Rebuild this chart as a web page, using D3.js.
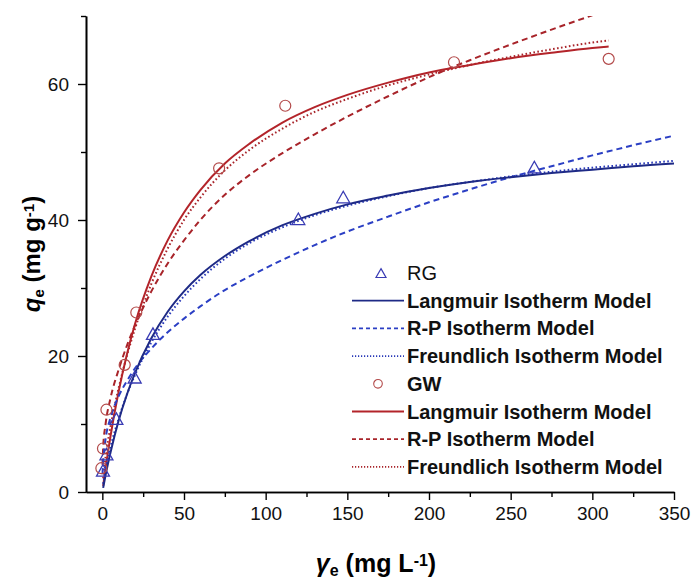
<!DOCTYPE html>
<meta charset="utf-8">
<style>
  body { margin: 0; background: #fff; }
  text { font-family: "Liberation Sans", Arial, sans-serif; }
</style>
<body>
  <script src="https://d3js.org/d3.v7.min.js"></script>
  <script>
    // measured points
    var rgX = [0.4, 2.5, 8.6, 19.8, 31, 120, 147.5, 264.5];
    var rgY = [3.0, 5.4, 10.6, 16.7, 23.1, 40.0, 43.2, 47.6];
    var gwX = [-0.6, 0.4, 2.5, 13.7, 20.8, 71.5, 112, 215.3, 310];
    var gwY = [3.5, 6.4, 12.1, 18.7, 26.4, 47.6, 56.8, 63.2, 63.7];

    // fitted curves
    var fitX = [0.1, 0.5, 2, 5, 10, 15, 20, 30, 40, 50, 60, 75, 90, 110, 130, 150, 175, 200, 225, 250, 275, 300, 310, 325, 350];
    var rgLangmuir = [null, 0.6, 2.5, 5.8, 10.5, 14.3, 17.5, 22.6, 26.5, 29.5, 31.9, 34.7, 36.9, 39.2, 40.9, 42.3, 43.6, 44.7, 45.6, 46.3, 46.9, 47.4, 47.6, 47.9, 48.3];
    var rgRP = [2.6, 4.4, 7.8, 10.9, 14.1, 16.3, 18.2, 21.1, 23.5, 25.5, 27.3, 29.7, 31.7, 34.1, 36.3, 38.3, 40.5, 42.6, 44.5, 46.3, 47.9, 49.5, 50.1, 51.0, 52.4];
    var rgFreundlich = [null, 1.2, 3.3, 6.6, 10.8, 14.3, 17.2, 22.0, 25.8, 28.8, 31.3, 34.3, 36.6, 38.9, 40.7, 42.1, 43.5, 44.7, 45.6, 46.4, 47.1, 47.7, 47.9, 48.2, 48.7];
    var gwLangmuir = [null, 0.9, 3.5, 8.2, 14.8, 20.2, 24.7, 31.7, 37.0, 41.1, 44.4, 48.3, 51.2, 54.3, 56.6, 58.4, 60.2, 61.7, 62.8, 63.8, 64.6, 65.3, 65.5, null, null];
    var gwRP = [4.0, 6.5, 10.0, 13.8, 18.0, 21.5, 24.5, 29.5, 33.6, 37.0, 40.0, 43.7, 46.6, 49.8, 52.6, 55.2, 58.2, 61.0, 63.5, 65.8, 68.0, 70.1, null, null, null];
    var gwFreundlich = [null, 2.0, 5.2, 9.6, 15.3, 20.0, 24.0, 30.6, 35.8, 40.0, 43.3, 47.3, 50.3, 53.4, 55.9, 57.8, 59.8, 61.4, 62.8, 64.0, 65.1, 66.1, 66.4, null, null];

    var xMajor = [0, 50, 100, 150, 200, 250, 300, 350],
      xMinor = [25, 75, 125, 175, 225, 275, 325],
      yMajor = [0, 20, 40, 60],
      yMinor = [10, 30, 50, 70];

    var legendLabels = ["RG", "Langmuir Isotherm Model", "R-P Isotherm Model", "Freundlich Isotherm Model",
      "GW", "Langmuir Isotherm Model", "R-P Isotherm Model", "Freundlich Isotherm Model"];

    var red = "#b3242a";

    var margin = { top: 16, right: 17, bottom: 88, left: 86 },
      width = 691 - margin.left - margin.right,
      height = 580 - margin.top - margin.bottom;

    var svg = d3.select("body").append("svg")
      .attr("width", 691)
      .attr("height", 580);

    var g = svg.append("g")
      .attr("transform", "translate(" + margin.left + "," + margin.top + ")");

    var x = d3.scaleLinear().domain([-10, 350]).range([0, width]),
      y = d3.scaleLinear().domain([0, 70]).range([height, 0]);

    svg.append("clipPath").attr("id", "clip")
      .append("rect").attr("width", width).attr("height", height);

    // curves
    var series = [
      { v: gwRP, color: "#a8242a", dash: "6,4" },
      { v: gwFreundlich, color: "#a8242a", dash: "1.6,2.4" },
      { v: gwLangmuir, color: red, dash: null },
      { v: rgRP, color: "#2b3fc4", dash: "6,4" },
      { v: rgFreundlich, color: "#2a3ab8", dash: "1.6,2.4" },
      { v: rgLangmuir, color: "#1e2a86", dash: null }
    ];

    var line = d3.line()
      .defined(function(d) { return d[1] != null; })
      .x(function(d) { return x(d[0]); })
      .y(function(d) { return y(d[1]); })
      .curve(d3.curveMonotoneX);

    var curves = g.append("g").attr("clip-path", "url(#clip)");
    series.forEach(function(s) {
      curves.append("path")
        .datum(fitX.map(function(c, i) { return [c, s.v[i]]; }))
        .attr("d", line)
        .attr("fill", "none")
        .attr("stroke", s.color)
        .attr("stroke-width", 2)
        .attr("stroke-dasharray", s.dash);
    });

    function tri(r) {
      return "M0," + (-r * 1.08) + "L" + r + "," + (r * 0.7) + "L" + (-r) + "," + (r * 0.7) + "Z";
    }

    g.selectAll(".rg")
      .data(rgX)
      .enter().append("path")
      .attr("class", "rg")
      .attr("transform", function(d, i) { return "translate(" + x(d) + "," + y(rgY[i]) + ")"; })
      .attr("d", tri(6.5))
      .attr("fill", "none")
      .attr("stroke", "#3a3cb4")
      .attr("stroke-width", 1.3);

    g.selectAll(".gw")
      .data(gwX)
      .enter().append("circle")
      .attr("class", "gw")
      .attr("cx", function(d) { return x(d); })
      .attr("cy", function(d, i) { return y(gwY[i]); })
      .attr("r", 5.5)
      .attr("fill", "none")
      .attr("stroke", "#b34a4a")
      .attr("stroke-width", 1.2);

    // axes
    function styleAxis(sel) {
      sel.select(".domain").attr("stroke-width", 1.6);
      sel.selectAll(".tick line").attr("stroke-width", 1.4);
      sel.selectAll("text").style("font-family", "Liberation Sans, Arial, sans-serif").style("font-size", "19px").attr("fill", "#111");
    }

    g.append("g")
      .attr("transform", "translate(0," + height + ")")
      .call(d3.axisBottom(x).tickValues(xMinor).tickSize(5).tickSizeOuter(0).tickFormat(""))
      .call(styleAxis);
    g.append("g")
      .attr("transform", "translate(0," + height + ")")
      .call(d3.axisBottom(x).tickValues(xMajor).tickSize(8).tickSizeOuter(0).tickPadding(7))
      .call(styleAxis);

    g.append("g")
      .call(d3.axisLeft(y).tickValues(yMinor).tickSize(5).tickSizeOuter(0).tickFormat(""))
      .call(styleAxis);
    g.append("g")
      .call(d3.axisLeft(y).tickValues(yMajor).tickSize(8).tickSizeOuter(0).tickPadding(9))
      .call(styleAxis);

    // axis titles
    var yt = svg.append("text")
      .attr("transform", "translate(40,254) rotate(-90)")
      .attr("text-anchor", "middle")
      .style("font-size", "24px")
      .style("font-weight", "bold");
    yt.append("tspan").style("font-style", "italic").text("q");
    yt.append("tspan").attr("baseline-shift", "-25%").style("font-size", "15px").text("e");
    yt.append("tspan").text(" (mg g");
    yt.append("tspan").attr("baseline-shift", "40%").style("font-size", "15px").text("-1");
    yt.append("tspan").text(")");

    var xt = svg.append("text")
      .attr("x", 376)
      .attr("y", 572)
      .attr("text-anchor", "middle")
      .style("font-size", "25px")
      .style("font-weight", "bold");
    xt.append("tspan").style("font-style", "italic").text("γ");
    xt.append("tspan").attr("baseline-shift", "-25%").style("font-size", "16px").text("e");
    xt.append("tspan").text(" (mg L");
    xt.append("tspan").attr("baseline-shift", "40%").style("font-size", "16px").text("-1");
    xt.append("tspan").text(")");

    // legend
    var legendStyles = [
      { kind: "tri", color: "#3a3cb4" },
      { kind: "line", color: "#1e2a86", dash: null },
      { kind: "line", color: "#2b3fc4", dash: "4,3" },
      { kind: "line", color: "#2a3ab8", dash: "1.2,1.8" },
      { kind: "circle", color: "#b34a4a" },
      { kind: "line", color: red, dash: null },
      { kind: "line", color: "#a8242a", dash: "4,3" },
      { kind: "line", color: "#a8242a", dash: "1.2,1.8" }
    ];

    var legend = svg.append("g").attr("transform", "translate(352,273)");
    legendLabels.forEach(function(label, i) {
      var row = legend.append("g").attr("transform", "translate(0," + (i * 27.7) + ")");
      var st = legendStyles[i];
      if (st.kind === "line") {
        row.append("line").attr("x1", 0).attr("x2", 52).attr("y1", 0).attr("y2", 0)
          .attr("stroke", st.color).attr("stroke-width", 1.8).attr("stroke-dasharray", st.dash);
      } else if (st.kind === "tri") {
        row.append("path").attr("transform", "translate(29,1)").attr("d", tri(5))
          .attr("fill", "none").attr("stroke", st.color).attr("stroke-width", 1.2);
      } else {
        row.append("circle").attr("cx", 26).attr("cy", 0).attr("r", 4.3)
          .attr("fill", "none").attr("stroke", st.color).attr("stroke-width", 1.1);
      }
      row.append("text")
        .attr("x", 55)
        .attr("y", 7)
        .style("font-size", "20px")
        .style("font-weight", label === "RG" ? "normal" : "bold")
        .attr("fill", "#111")
        .text(label);
    });
  </script>
</body>
